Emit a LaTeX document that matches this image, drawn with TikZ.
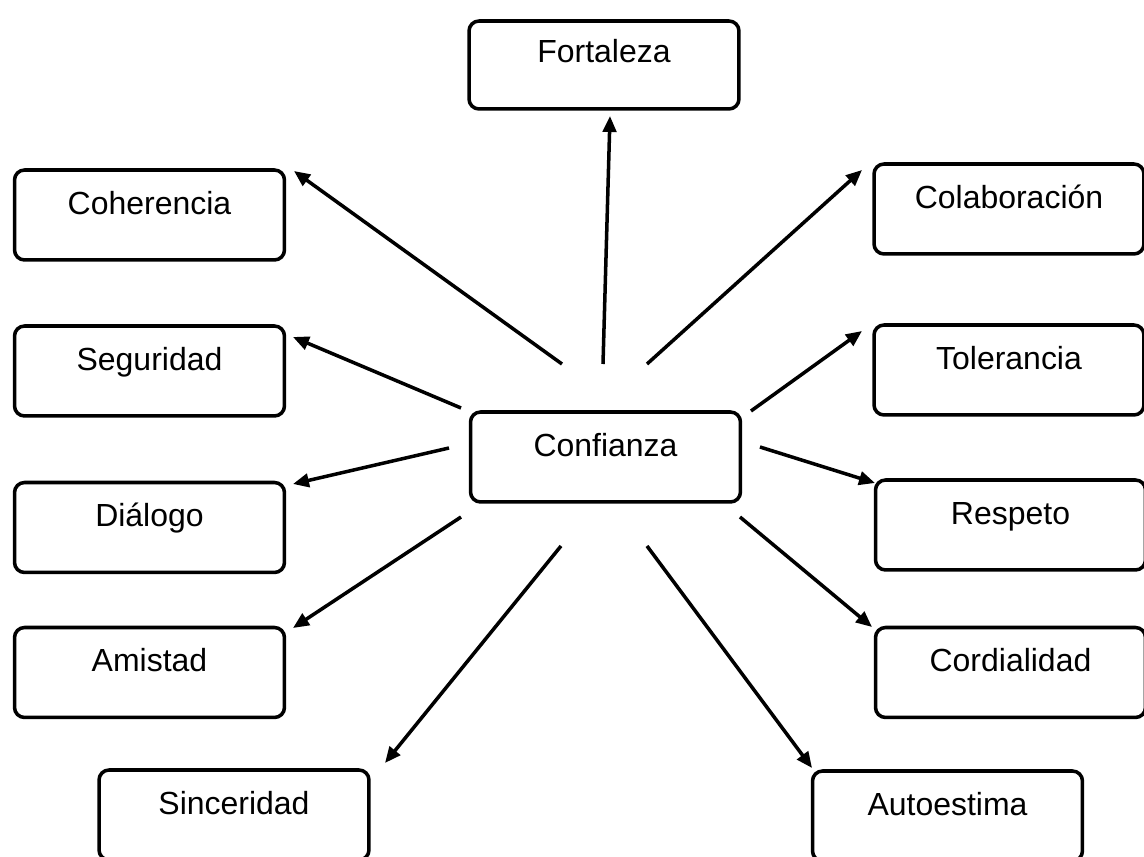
\documentclass[tikz,border=0pt]{standalone}
\usepackage{fontspec}
\setmainfont{Liberation Sans}
\usepackage{tikz}
\usetikzlibrary{arrows.meta,positioning,calc}

\tikzset{
  concept box/.style={draw, rounded corners=0.2cm, line width=2pt,
    minimum width=5.4cm, inner sep=0pt, outer sep=0pt,
    text height=0.89cm, text depth=0.91cm,
    font=\fontsize{18.2}{22}\selectfont},
  link arrow/.style={line width=2pt, -{Triangle[length=0.32cm,width=0.27cm]}}
}

\begin{document}
\begin{tikzpicture}[x=0.02cm, y=-0.02cm]

\useasboundingbox (0,0) rectangle (1144,857);

% central concept
\node[concept box] (Confianza) at (605.5,457) {Confianza};

% left column
\node[concept box] (Coherencia) at (149.5,215) {Coherencia};
\node[concept box] (Seguridad) at (149.5,371) {Seguridad};
\node[concept box] (Dialogo) at (149.5,527.5) {Diálogo};
\node[concept box] (Amistad) at (149.5,672.5) {Amistad};
\node[concept box] (Sinceridad) at (234,815) {Sinceridad};

% right column
\node[concept box, text height=0.84cm, text depth=0.92cm] (Fortaleza) at (604,65) {Fortaleza};
\node[concept box] (Colaboracion) at (1009,209) {Colaboración};
\node[concept box] (Tolerancia) at (1009,370) {Tolerancia};
\node[concept box] (Respeto) at (1010.5,525) {Respeto};
\node[concept box] (Cordialidad) at (1010.5,672.5) {Cordialidad};
\node[concept box] (Autoestima) at (947.5,816) {Autoestima};

\draw[link arrow] ($(Confianza.north)+(-2.5,-48)$) -- ($(Fortaleza.south)+(6,7)$);
\draw[link arrow] ($(Confianza.north)+(-43.5,-48)$) -- ($(Coherencia.north east)+(9.5,1)$);
\draw[link arrow] ($(Confianza.north)+(41.5,-48)$) -- ($(Colaboracion.north west)+(-12,6)$);
\draw[link arrow] ($(Confianza.north west)+(-9.5,-4)$) -- ($(Seguridad.north east)+(8.5,11)$);
\draw[link arrow] ($(Confianza.north east)+(10.5,-1)$) -- ($(Tolerancia.north west)+(-12,6)$);
\draw[link arrow] ($(Confianza.west)+(-21.5,-9)$) -- ($(Dialogo.north east)+(8.5,1.5)$);
\draw[link arrow] ($(Confianza.east)+(19.5,-10)$) -- ($(Respeto.north west)+(-0.5,3)$);
\draw[link arrow] ($(Confianza.south west)+(-9.5,15)$) -- ($(Amistad.north east)+(8.5,0.5)$);
\draw[link arrow] ($(Confianza.south east)+(-0.5,15)$) -- ($(Cordialidad.north west)+(-3.5,-0.5)$);
\draw[link arrow] ($(Confianza.south)+(-44.5,44)$) -- ($(Sinceridad.north east)+(16,-7)$);
\draw[link arrow] ($(Confianza.south)+(41.5,44)$) -- ($(Autoestima.north west)+(-0.5,-3)$);

\end{tikzpicture}
\end{document}
